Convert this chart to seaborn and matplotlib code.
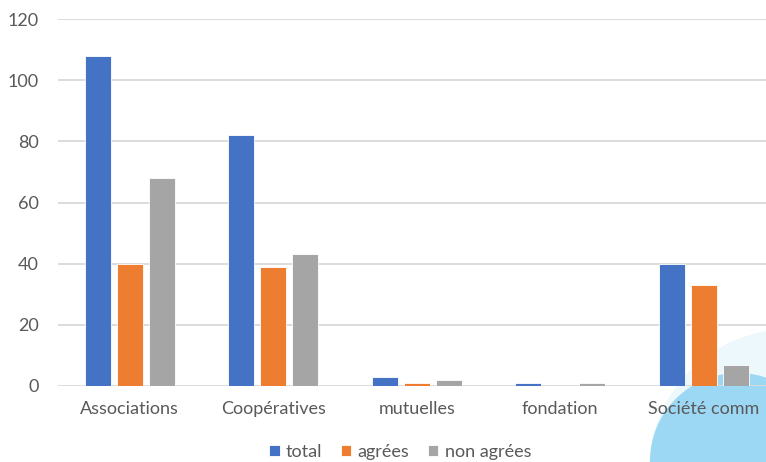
import matplotlib
matplotlib.use("Agg")
import matplotlib.pyplot as plt
import seaborn as sns
import pandas as pd
from matplotlib.patches import Circle

categories = ["Associations", "Coopératives", "mutuelles", "fondation", "Société comm"]
series = ["total", "agrées", "non agrées"]
total = [108, 82, 3, 1, 40]
agrees = [40, 39, 1, 0, 33]
non_agrees = [68, 43, 2, 1, 7]
colors = ["#4472C4", "#ED7D31", "#A5A5A5"]
yticks = [0, 20, 40, 60, 80, 100, 120]

rows = []
for s, vals in zip(series, [total, agrees, non_agrees]):
    for c, v in zip(categories, vals):
        rows.append({"cat": c, "series": s, "val": v})
df = pd.DataFrame(rows)

sns.set_style("white")
plt.rcParams["font.family"] = ["Lato", "DejaVu Sans"]
txt = "#595959"

fig = plt.figure(figsize=(7.66, 4.62), dpi=100)
# background decoration (light blue blob bottom right)
fig.add_artist(Circle((790 / 100, -8 / 100), 1.41, transform=fig.dpi_scale_trans,
                      facecolor="#EDF8FD", edgecolor="none", zorder=-2))
fig.add_artist(Circle((738 / 100, 1 / 100), 0.88, transform=fig.dpi_scale_trans,
                      facecolor="#9CD8F4", edgecolor="none", zorder=-1))

ax = fig.add_axes([58 / 766, 76 / 462, 717.5 / 766, 367 / 462])
ax.patch.set_alpha(0)
sns.barplot(data=df, x="cat", y="val", hue="series", hue_order=series,
            palette=colors, width=0.67, gap=0.19, ax=ax,
            edgecolor="white", linewidth=0.6, saturation=1, errorbar=None)

ax.set_ylim(0, 120)
ax.set_yticks(yticks)
ax.set_xlim(-0.5, 4.5)
ax.set_axisbelow(True)
ax.yaxis.grid(True, color="#D9D9D9", linewidth=1.3)
for sp in ax.spines.values():
    sp.set_visible(False)
ax.set_xlabel("")
ax.set_ylabel("")
ax.tick_params(axis="y", length=0, pad=14, labelsize=13, labelcolor=txt)
ax.tick_params(axis="x", length=0, pad=11, labelsize=13, labelcolor=txt)

handles, labels = ax.get_legend_handles_labels()
ax.get_legend().remove()
fig.legend(handles, labels, loc="center", bbox_to_anchor=(400 / 766, 1 - 452 / 462),
           ncol=3, frameon=False, handlelength=0.6, handleheight=0.6,
           handletextpad=0.35, columnspacing=1.0, fontsize=13, labelcolor=txt)

fig.savefig("out.png", dpi=100)
